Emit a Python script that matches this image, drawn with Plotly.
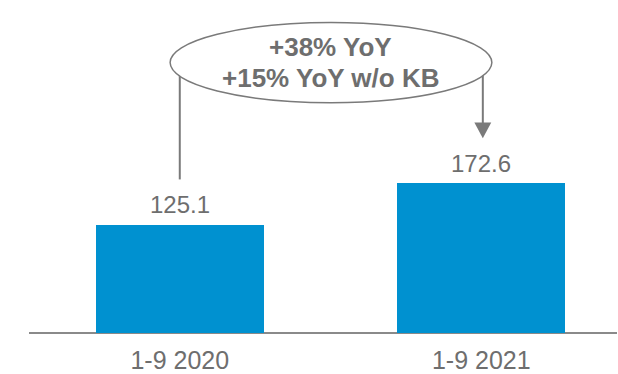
import plotly.graph_objects as go

# Revenue for the first nine months of each year
periods = ["1-9 2020", "1-9 2021"]
revenue = [125.1, 172.6]
value_labels = ["125.1", "172.6"]
growth_lines = ["+38% YoY", "+15% YoY w/o KB"]

BAR_BLUE = "#0091d0"
GREY = "#6e6e6e"
LINE_GREY = "#7a7a7a"
FONT = "Liberation Sans, Arial, sans-serif"

Y_MAX = 384
CONNECTOR_GAP = 52  # space between a bar's top and its connector end

fig = go.Figure(
    go.Bar(
        x=periods,
        y=revenue,
        marker=dict(color=BAR_BLUE, line=dict(width=0)),
        width=0.556,
        cliponaxis=False,
        hoverinfo="skip",
    )
)

# value labels sitting just above each bar
for p, v, lbl in zip(periods, revenue, value_labels):
    fig.add_annotation(
        x=p, y=v, xref="x", yref="y", text=lbl, showarrow=False,
        yanchor="middle", yshift=20,
        font=dict(family=FONT, size=24, color=GREY),
    )

# Ellipse callout geometry (data units)
ell_x0, ell_x1 = -0.032, 1.035
ell_y0, ell_y1 = 265.6, 358.0
ell_mid = (ell_y0 + ell_y1) / 2
ell_cx = (ell_x0 + ell_x1) / 2

shapes = [
    # connector from the 2020 bar up into the callout
    dict(type="line", xref="x", yref="y", x0=0, x1=0,
         y0=revenue[0] + CONNECTOR_GAP, y1=ell_mid,
         line=dict(color=LINE_GREY, width=2)),
    # connector from the callout down toward the 2021 bar
    dict(type="line", xref="x", yref="y", x0=1.005, x1=1.005,
         y0=revenue[1] + CONNECTOR_GAP + 14, y1=ell_mid,
         line=dict(color=LINE_GREY, width=2)),
    # arrowhead pointing at the 2021 bar
    dict(type="path", xref="x", yref="y",
         path=(f"M {1.005 - 0.028},{revenue[1] + CONNECTOR_GAP + 18} "
               f"L {1.005 + 0.028},{revenue[1] + CONNECTOR_GAP + 18} "
               f"L 1.005,{revenue[1] + CONNECTOR_GAP} Z"),
         fillcolor=LINE_GREY, line=dict(width=0)),
    # callout ellipse
    dict(type="circle", xref="x", yref="y",
         x0=ell_x0, x1=ell_x1, y0=ell_y0, y1=ell_y1,
         fillcolor="white", line=dict(color=LINE_GREY, width=1.5)),
]

# two bold lines of growth text inside the ellipse
for line_text, shift in zip(growth_lines, [16, -15]):
    fig.add_annotation(
        x=ell_cx, y=ell_mid, xref="x", yref="y",
        text=f"<b>{line_text}</b>", showarrow=False,
        yanchor="middle", yshift=shift,
        font=dict(family=FONT, size=26, color=GREY),
    )

fig.update_layout(
    width=618, height=374,
    margin=dict(l=29, r=1, t=0, b=39),
    paper_bgcolor="white", plot_bgcolor="white",
    showlegend=False,
    shapes=shapes,
    bargap=0,
    xaxis=dict(
        range=[-0.5, 1.45],
        showgrid=False, zeroline=False,
        showline=False, ticks="",
        tickfont=dict(family=FONT, size=25, color=GREY),
        ticklabelstandoff=10,
        fixedrange=True,
    ),
    yaxis=dict(
        range=[0, Y_MAX],
        showgrid=False, showticklabels=False, ticks="",
        zeroline=True, zerolinecolor="#8a8a8a", zerolinewidth=2,
        showline=False,
        fixedrange=True,
    ),
)

fig.write_html("out.html")
